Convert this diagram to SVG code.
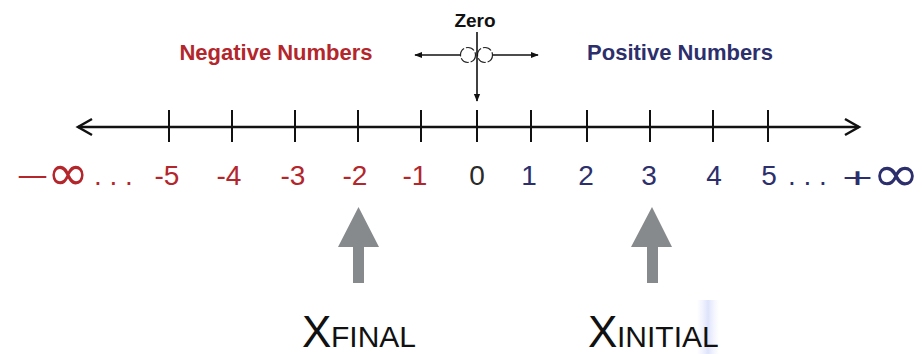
<svg xmlns="http://www.w3.org/2000/svg" width="922" height="354" viewBox="0 0 922 354">
  <defs>
    <marker id="tip" viewBox="0 0 10 10" refX="9" refY="5" markerWidth="8" markerHeight="8" markerUnits="userSpaceOnUse" orient="auto">
      <path d="M0,1 L10,5 L0,9 Z" fill="#111"/>
    </marker>
    <linearGradient id="smudge" x1="0" y1="0" x2="1" y2="0">
      <stop offset="0" stop-color="#dfe3fb" stop-opacity="0"/>
      <stop offset="0.5" stop-color="#d6dcfa" stop-opacity="0.8"/>
      <stop offset="1" stop-color="#e6e9fc" stop-opacity="0"/>
    </linearGradient>
  </defs>
  <style>
    text { font-family: "Liberation Sans", Arial, sans-serif; }
    .num { font-size: 28px; text-anchor: middle; }
    .start { text-anchor: start; }
    .inf { font-family: "DejaVu Sans", sans-serif; font-size: 50px; }
    .neg { fill: #b3262b; }
    .pos { fill: #2c2f6c; }
    .zero { fill: #2a2a2a; }
    .head { font-size: 22px; font-weight: bold; text-anchor: middle; }
    .tick { stroke: #111; stroke-width: 2; }
    .axis { stroke: #111; stroke-width: 2.5; fill: none; }
    .thin { stroke: #111; stroke-width: 1.6; fill: none; }
    .big { fill: #111; font-size: 44px; }
    .sub { fill: #111; font-size: 30px; }
    .pointer { fill: #878a8d; }
  </style>
  <rect width="922" height="354" fill="#ffffff"/>
  <rect x="697" y="300" width="22" height="54" fill="url(#smudge)"/>

  <!-- headings -->
  <g id="negative-heading">
    <text class="head neg" x="276" y="60">Negative Numbers</text>
  </g>
  <g id="positive-heading">
    <text class="head pos" x="680" y="60">Positive Numbers</text>
  </g>

  <!-- zero marker: label, split circles and the direction arrows -->
  <g id="zero-marker">
    <text x="475" y="27" font-size="19" font-weight="bold" fill="#111" text-anchor="middle">Zero</text>
    <circle cx="468" cy="55" r="7.5" fill="none" stroke="#222" stroke-width="1.2" stroke-dasharray="9 2"/>
    <circle cx="485" cy="55" r="7.5" fill="none" stroke="#222" stroke-width="1.2" stroke-dasharray="9 2"/>
  </g>
  <g id="connectors">
    <line class="thin" x1="460" y1="55" x2="415" y2="55" marker-end="url(#tip)"/>
    <line class="thin" x1="493" y1="55" x2="538" y2="55" marker-end="url(#tip)"/>
    <line class="thin" x1="477" y1="32" x2="477" y2="101" marker-end="url(#tip)"/>
  </g>

  <!-- number line -->
  <g id="number-line">
    <line class="axis" x1="78" y1="127" x2="859" y2="127"/>
    <polyline class="axis" points="92,119 78,127 92,135"/>
    <polyline class="axis" points="845,119 859,127 845,135"/>
    <line class="tick" x1="169" y1="110" x2="169" y2="142"/>
    <line class="tick" x1="232" y1="110" x2="232" y2="142"/>
    <line class="tick" x1="295" y1="110" x2="295" y2="142"/>
    <line class="tick" x1="358" y1="110" x2="358" y2="142"/>
    <line class="tick" x1="421" y1="110" x2="421" y2="142"/>
    <line class="tick" x1="477" y1="110" x2="477" y2="142"/>
    <line class="tick" x1="531" y1="110" x2="531" y2="142"/>
    <line class="tick" x1="587" y1="110" x2="587" y2="142"/>
    <line class="tick" x1="650" y1="110" x2="650" y2="142"/>
    <line class="tick" x1="713" y1="110" x2="713" y2="142"/>
    <line class="tick" x1="768" y1="110" x2="768" y2="142"/>
  </g>

  <!-- tick labels -->
  <g id="labels">
    <text class="num start neg" x="16" y="186" font-size="44" textLength="33" lengthAdjust="spacingAndGlyphs">−</text>
    <text class="num start neg inf" x="47" y="190" textLength="42" lengthAdjust="spacingAndGlyphs">∞</text>
    <text class="num start neg" x="94" y="185">. . .</text>
    <text class="num neg" x="167" y="185">-5</text>
    <text class="num neg" x="229" y="185">-4</text>
    <text class="num neg" x="293" y="185">-3</text>
    <text class="num neg" x="355" y="185">-2</text>
    <text class="num neg" x="415" y="185">-1</text>
    <text class="num zero" x="477" y="185">0</text>
    <text class="num pos" x="529" y="185">1</text>
    <text class="num pos" x="586" y="185">2</text>
    <text class="num pos" x="649" y="185">3</text>
    <text class="num pos" x="714" y="185">4</text>
    <text class="num pos" x="769" y="185">5</text>
    <text class="num start pos" x="788" y="185">. . .</text>
    <text class="num start pos" x="842" y="187" font-size="48" textLength="31" lengthAdjust="spacingAndGlyphs">+</text>
    <text class="num start pos inf" x="872" y="191" textLength="48" lengthAdjust="spacingAndGlyphs">∞</text>
  </g>

  <!-- position pointers -->
  <g id="x-final">
    <path class="pointer" d="M358.5,207 L379,247 L364,247 L364,283 L353,283 L353,247 L338,247 Z"/>
    <text class="big" x="302" y="347">X</text>
    <text class="sub" x="331" y="347">FINAL</text>
  </g>
  <g id="x-initial">
    <path class="pointer" d="M652,207 L672,247 L658,247 L658,283 L647,283 L647,247 L631,247 Z"/>
    <text class="big" x="588" y="347">X</text>
    <text class="sub" x="617" y="347" font-size="29">INITIAL</text>
  </g>
</svg>
